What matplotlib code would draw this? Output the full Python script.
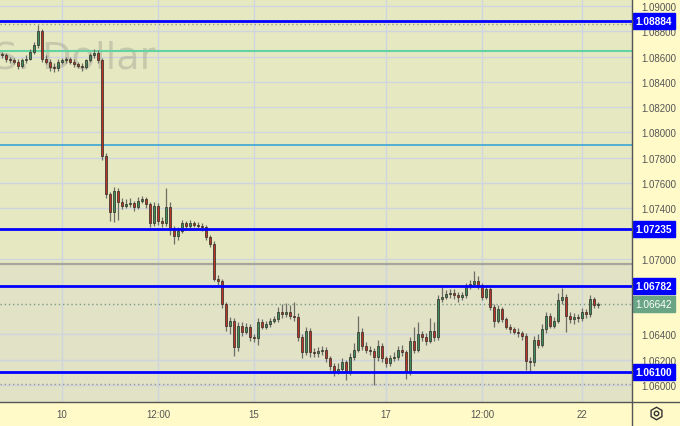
"""EUR/USD intraday candles with support/resistance levels, TradingView-like look."""

import matplotlib

matplotlib.use("Agg")
import matplotlib.pyplot as plt
import matplotlib.transforms as mtransforms
from matplotlib.lines import Line2D
import numpy as np

FIRST_OPEN = 1.0862
CLOSES = [
    1.0861, 1.0858, 1.0857, 1.0856, 1.0853, 1.0857, 1.0858, 1.0864, 1.0869, 1.0880,
    1.0858, 1.0856, 1.0852, 1.0851, 1.0856, 1.0857, 1.0858, 1.0856, 1.0854, 1.0853,
    1.0852, 1.0857, 1.0861, 1.0863, 1.0857, 1.0781, 1.0751, 1.0737, 1.0754, 1.0745,
    1.0742, 1.0743, 1.0744, 1.0741, 1.0746, 1.0747, 1.0743, 1.0728, 1.0742, 1.0730,
    1.0728, 1.0741, 1.0724, 1.0718, 1.0722, 1.0728, 1.0726, 1.0728, 1.0727, 1.0726,
    1.0725, 1.0717, 1.0712, 1.0684, 1.0682, 1.0664, 1.0647, 1.0651, 1.0630, 1.0647,
    1.0642, 1.0646, 1.0638, 1.0637, 1.0650, 1.0646, 1.0648, 1.0651, 1.0652, 1.0658,
    1.0656, 1.0658, 1.0655, 1.0654, 1.0638, 1.0626, 1.0643, 1.0626, 1.0625, 1.0627,
    1.0628, 1.0621, 1.0615, 1.0611, 1.0613, 1.0618, 1.0610, 1.0622, 1.0628, 1.0642,
    1.0631, 1.0628, 1.0627, 1.0622, 1.0631, 1.0621, 1.0617, 1.0621, 1.0622, 1.0628,
    1.0626, 1.0610, 1.0635, 1.0628, 1.0640, 1.0638, 1.0635, 1.0643, 1.0638, 1.0668,
    1.0670, 1.0672, 1.0673, 1.0671, 1.0670, 1.0671, 1.0678, 1.0680, 1.0682, 1.0679,
    1.0670, 1.0676, 1.0662, 1.0651, 1.0660, 1.0652, 1.0646, 1.0644, 1.0642, 1.0641,
    1.0639, 1.0619, 1.0618, 1.0636, 1.0632, 1.0644, 1.0655, 1.0647, 1.0651, 1.0667,
    1.0670, 1.0655, 1.0652, 1.0654, 1.0653, 1.0658, 1.0656, 1.0668, 1.0663, 1.0664,
]
HIGHS = [
    1.0864, 1.0863, 1.0860, 1.0859, 1.0858, 1.0859, 1.0861, 1.0866, 1.0872, 1.0885,
    1.0882, 1.0861, 1.0858, 1.0855, 1.0858, 1.0859, 1.0860, 1.0860, 1.0858, 1.0856,
    1.0855, 1.0858, 1.0863, 1.0866, 1.0865, 1.0859, 1.0784, 1.0753, 1.0757, 1.0756,
    1.0748, 1.0747, 1.0748, 1.0746, 1.0749, 1.0750, 1.0749, 1.0745, 1.0745, 1.0744,
    1.0733, 1.0756, 1.0745, 1.0726, 1.0725, 1.0731, 1.0730, 1.0731, 1.0730, 1.0729,
    1.0728, 1.0727, 1.0719, 1.0714, 1.0687, 1.0684, 1.0666, 1.0654, 1.0653, 1.0650,
    1.0650, 1.0649, 1.0648, 1.0640, 1.0653, 1.0652, 1.0651, 1.0653, 1.0655, 1.0662,
    1.0664, 1.0665, 1.0663, 1.0666, 1.0657, 1.0640, 1.0646, 1.0645, 1.0629, 1.0630,
    1.0631, 1.0630, 1.0623, 1.0617, 1.0617, 1.0621, 1.0620, 1.0625, 1.0633, 1.0655,
    1.0645, 1.0634, 1.0631, 1.0629, 1.0636, 1.0633, 1.0623, 1.0624, 1.0626, 1.0631,
    1.0632, 1.0628, 1.0638, 1.0646, 1.0650, 1.0643, 1.0641, 1.0653, 1.0650, 1.0671,
    1.0678, 1.0675, 1.0676, 1.0676, 1.0674, 1.0674, 1.0681, 1.0683, 1.0690, 1.0686,
    1.0681, 1.0679, 1.0678, 1.0664, 1.0663, 1.0662, 1.0654, 1.0648, 1.0646, 1.0645,
    1.0643, 1.0641, 1.0622, 1.0639, 1.0640, 1.0648, 1.0658, 1.0657, 1.0654, 1.0673,
    1.0677, 1.0672, 1.0658, 1.0657, 1.0656, 1.0661, 1.0660, 1.0671, 1.0670, 1.0666,
]
LOWS = [
    1.0859, 1.0856, 1.0855, 1.0854, 1.0850, 1.0851, 1.0855, 1.0857, 1.0862, 1.0867,
    1.0856, 1.0854, 1.0849, 1.0848, 1.0849, 1.0854, 1.0855, 1.0854, 1.0852, 1.0851,
    1.0849, 1.0850, 1.0856, 1.0859, 1.0855, 1.0778, 1.0748, 1.0730, 1.0729, 1.0731,
    1.0739, 1.0740, 1.0741, 1.0738, 1.0739, 1.0744, 1.0740, 1.0725, 1.0726, 1.0727,
    1.0725, 1.0726, 1.0719, 1.0712, 1.0715, 1.0720, 1.0723, 1.0724, 1.0725, 1.0724,
    1.0722, 1.0715, 1.0709, 1.0682, 1.0679, 1.0661, 1.0643, 1.0640, 1.0623, 1.0627,
    1.0639, 1.0640, 1.0635, 1.0634, 1.0632, 1.0644, 1.0644, 1.0646, 1.0649, 1.0650,
    1.0653, 1.0654, 1.0652, 1.0651, 1.0635, 1.0621, 1.0624, 1.0622, 1.0622, 1.0622,
    1.0624, 1.0618, 1.0612, 1.0607, 1.0609, 1.0610, 1.0604, 1.0608, 1.0620, 1.0626,
    1.0628, 1.0625, 1.0624, 1.0600, 1.0619, 1.0618, 1.0614, 1.0615, 1.0619, 1.0620,
    1.0623, 1.0605, 1.0608, 1.0625, 1.0626, 1.0635, 1.0632, 1.0633, 1.0635, 1.0636,
    1.0666, 1.0668, 1.0669, 1.0668, 1.0666, 1.0667, 1.0669, 1.0676, 1.0678, 1.0676,
    1.0667, 1.0668, 1.0659, 1.0646, 1.0649, 1.0650, 1.0644, 1.0641, 1.0640, 1.0638,
    1.0636, 1.0612, 1.0610, 1.0615, 1.0629, 1.0630, 1.0641, 1.0645, 1.0645, 1.0649,
    1.0664, 1.0642, 1.0649, 1.0648, 1.0650, 1.0651, 1.0653, 1.0654, 1.0661, 1.0661,
]

# key levels drawn across the chart
BLUE_LEVELS = [1.08884, 1.07235, 1.06782, 1.06100]
GREEN_LEVEL = 1.08645
TEAL_LEVEL = 1.07900
GREY_LEVEL = 1.06958
DOTTED_LEVELS = [1.08860, 1.06010]
LAST_PRICE = 1.06642

PRICE_TICKS = [1.09, 1.088, 1.086, 1.084, 1.082, 1.08, 1.078, 1.076, 1.074,
               1.07, 1.064, 1.062, 1.06]
TIME_TICK_POS = [15, 39, 63, 96, 120, 145]
TIME_TICK_LABELS = ["10", "12:00", "15", "17", "12:00", "22"]

W, H = 680, 427
PLOT_W, PLOT_H = 632, 403
Y_TOP, Y_BOTTOM = 1.09057, 1.05865

BG_TOP = "#e6e8c2"
BG_LOW = "#e1e2c6"
AXIS_BG = "#fffac8"
UP = "#3f8c5f"
DOWN = "#b8352a"


def main() -> None:
    closes = np.array(CLOSES)
    opens = np.concatenate([[FIRST_OPEN], closes[:-1]])
    highs = np.array(HIGHS)
    lows = np.array(LOWS)
    idx = np.arange(len(closes))

    fig = plt.figure(figsize=(W / 100, H / 100), dpi=100, facecolor=AXIS_BG)
    ax = fig.add_axes([0, (H - PLOT_H) / H, PLOT_W / W, PLOT_H / H])
    ax.set_facecolor(BG_TOP)
    ax.set_xlim(-0.5, PLOT_W / 4 - 0.5)
    ax.set_ylim(Y_BOTTOM, Y_TOP)

    ax.axhspan(Y_BOTTOM, GREY_LEVEL, color=BG_LOW, lw=0, zorder=0)

    # grid
    for p in PRICE_TICKS:
        ax.axhline(p, color="#cdd6df", lw=1, zorder=0.5)
    for x in TIME_TICK_POS:
        ax.axvline(x, color="#cdd6df", lw=1, zorder=0.5)

    # watermark (symbol description, cut by the left edge)
    ax.text(38.3, 1.0851, "Euro / U.S. Dollar", ha="right", va="baseline",
            fontsize=27.5, color="#9a9a8a", alpha=0.4, zorder=0.6, clip_on=True)

    # levels
    ax.axhline(GREEN_LEVEL, color="#62d3a2", lw=1.5, zorder=1)
    ax.axhline(TEAL_LEVEL, color="#2a9fd6", lw=1.1, zorder=1)
    ax.axhline(GREY_LEVEL, color="#a6a69c", lw=1.6, zorder=1)
    for p in DOTTED_LEVELS:
        ax.axhline(p, color="#9a9a90", lw=1, ls=(0, (1, 2)), zorder=1)
    ax.axhline(LAST_PRICE, color="#7a9e86", lw=1, ls=(0, (1, 2)), zorder=1)

    # candles
    up = closes >= opens
    colors = np.where(up, UP, DOWN)
    ax.vlines(idx, lows, highs, color="#6d6d68", lw=0.9, zorder=2)
    bottoms = np.minimum(opens, closes)
    heights = np.maximum(np.abs(closes - opens), 0.00004)
    ax.bar(idx, heights, bottom=bottoms, width=0.72, color=colors,
           edgecolor="#2f2a22", linewidth=0.5, zorder=3)

    for p in BLUE_LEVELS:
        ax.axhline(p, color="#0000ff", lw=2, zorder=4)

    # axes
    for s in ax.spines.values():
        s.set_visible(False)
    ax.yaxis.tick_right()
    ax.set_yticks(PRICE_TICKS)
    ax.set_yticklabels([f"{p:.5f}" for p in PRICE_TICKS])
    ax.set_xticks(TIME_TICK_POS)
    ax.set_xticklabels(TIME_TICK_LABELS)
    ax.tick_params(axis="y", length=0, pad=7, labelsize=7, labelcolor="#555555")
    ax.tick_params(axis="x", length=0, pad=5, labelsize=7, labelcolor="#555555")
    for lab in ax.get_yticklabels() + ax.get_xticklabels():
        lab.set_fontfamily("Liberation Sans")

    # price tags on the right scale
    trans = mtransforms.blended_transform_factory(fig.transFigure, ax.transData)
    for p in BLUE_LEVELS:
        ax.text(654 / W, p, f"{p:.5f}", transform=trans, ha="center", va="center",
                fontsize=7.3, fontweight="bold", color="white", family="Liberation Sans",
                zorder=6, clip_on=False,
                bbox=dict(boxstyle="square,pad=0.28", fc="#0000ff", ec="#0000ff"))
    ax.text(654 / W, LAST_PRICE, f"{LAST_PRICE:.5f}", transform=trans, ha="center",
            va="center", fontsize=7.3, color="white", family="Liberation Sans",
            zorder=6, clip_on=False,
            bbox=dict(boxstyle="square,pad=0.28", fc="#69a585", ec="#69a585"))

    # scale borders
    fig.add_artist(Line2D([0, 1], [(H - PLOT_H) / H] * 2, color="#555555", lw=1))
    fig.add_artist(Line2D([PLOT_W / W] * 2, [0, 1], color="#555555", lw=1))

    # settings button
    fig.add_artist(Line2D([656 / W], [13 / H], marker="h", ms=9, mfc="none",
                          mec="#333333", mew=1, ls="none"))
    fig.add_artist(Line2D([656 / W], [13 / H], marker="o", ms=3.2, mfc="none",
                          mec="#333333", mew=1, ls="none"))

    fig.savefig("out.png", dpi=100, facecolor=AXIS_BG)
    plt.close(fig)


if __name__ == "__main__":
    main()
